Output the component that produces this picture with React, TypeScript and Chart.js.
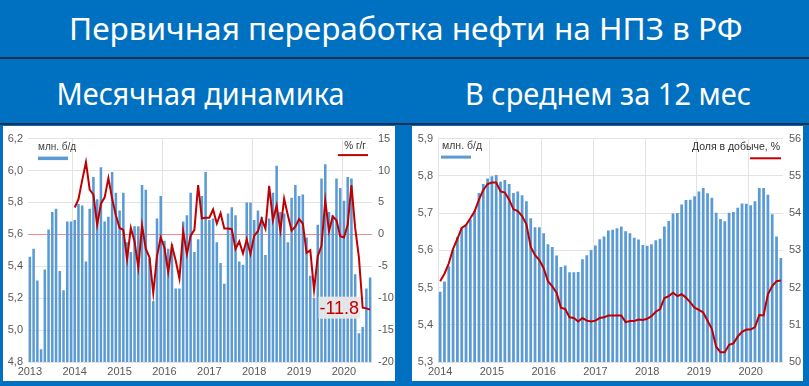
import React, { useEffect, useLayoutEffect, useRef } from 'react';
import { Chart, registerables } from 'chart.js';

Chart.register(...registerables);

// ---------- texts ----------
const TITLE = 'Первичная переработка нефти на НПЗ в РФ';
const SUBTITLE_LEFT = 'Месячная динамика';
const SUBTITLE_RIGHT = 'В среднем за 12 мес';
const BAR_LEGEND = 'млн. б/д';
const YOY_LEGEND = '% г/г';
const SHARE_LEGEND = 'Доля в добыче, %';
const LAST_YOY_LABEL = '-11.8';

// ---------- data: monthly primary refining, mln b/d (Jan 2013 .. Aug 2020) ----------
const MONTHLY_START_YEAR = 2013;
const MONTHLY_RUNS = [
  5.46, 5.51, 5.31, 4.88, 5.38, 5.63, 5.74, 5.76, 5.37, 5.25, 5.68, 5.68,
  5.69, 5.79, 5.78, 5.43, 5.76, 5.96, 5.82, 6.02, 5.68, 5.71, 5.99, 5.86,
  5.75, 5.86, 5.55, 5.49, 5.65, 5.65, 5.91, 5.88, 5.45, 5.18, 5.70, 5.84,
  5.56, 5.51, 5.54, 5.26, 5.26, 5.68, 5.72, 5.86, 5.49, 5.57, 5.84, 5.99,
  5.69, 5.70, 5.55, 5.42, 5.29, 5.73, 5.77, 5.72, 5.43, 5.41, 5.80, 5.80,
  5.69, 5.75, 5.71, 5.47, 5.70, 5.86, 6.03, 5.74, 5.73, 5.55, 5.83, 5.91,
  5.84, 5.85, 5.58, 5.34, 5.20, 5.66, 5.95, 6.04, 5.74, 5.72, 5.95, 5.89,
  5.81, 5.96, 5.95, 5.35, 4.98, 5.02, 5.26, 5.33,
];

// year-on-year change, % (Jan 2014 .. Aug 2020)
const YOY_START_YEAR = 2014;
const MONTHLY_YOY = [
  4.2, 5.5, 8.5, 11.3, 7.0, 6.2, 1.5, 4.8, 5.8, 8.8, 5.6, 3.0,
  1.0, 0.7, -3.9, 1.0, -1.1, -5.2, 1.4, -2.3, -3.6, -9.2, -3.4, -0.5,
  -2.1, -5.9, -1.8, -4.1, -6.9, 0.5, -3.1, -0.2, 0.7, 7.7, 2.5, 2.6,
  2.6, 3.9, 1.7, 3.3, 0.9, 0.9, 0.8, -2.3, -1.1, -3.0, -0.8, -3.1,
  -0.2, 0.5, 2.4, 0.9, 7.6, 2.2, 4.5, 0.6, 5.6, 3.0, 0.6, 1.2,
  2.4, 1.7, -2.9, -2.5, -8.7, -3.4, -1.8, 5.3, 0.5, 2.8, 2.2, -0.3,
  -0.5, 1.5, 7.7, 1.0, -3.6, -11.5, -11.6, -11.8,
];

// 12-month average, mln b/d (Jan 2014 .. Aug 2020)
const AVG_START_YEAR = 2014;
const AVG12_RUNS = [
  5.489, 5.516, 5.557, 5.602, 5.636, 5.659, 5.670, 5.683, 5.706, 5.754, 5.778, 5.793,
  5.799, 5.802, 5.784, 5.789, 5.778, 5.754, 5.758, 5.748, 5.732, 5.686, 5.662, 5.662,
  5.646, 5.616, 5.609, 5.586, 5.555, 5.559, 5.541, 5.541, 5.542, 5.576, 5.587, 5.601,
  5.613, 5.630, 5.637, 5.653, 5.655, 5.659, 5.664, 5.651, 5.646, 5.634, 5.629, 5.614,
  5.612, 5.616, 5.627, 5.631, 5.664, 5.679, 5.699, 5.700, 5.723, 5.735, 5.736, 5.745,
  5.758, 5.767, 5.753, 5.741, 5.701, 5.684, 5.678, 5.701, 5.703, 5.714, 5.726, 5.725,
  5.721, 5.732, 5.767, 5.767, 5.749, 5.697, 5.637, 5.579,
];

// share of refining in oil output, % (Jan 2014 .. Aug 2020)
const SHARE_OF_OUTPUT = [
  52.17, 52.37, 52.65, 53.04, 53.31, 53.60, 53.68, 53.86, 54.05, 54.36, 54.62, 54.78,
  54.82, 54.82, 54.58, 54.55, 54.36, 54.10, 54.05, 53.92, 53.70, 53.09, 52.87, 52.74,
  52.52, 52.17, 52.03, 51.86, 51.46, 51.42, 51.20, 51.18, 51.09, 51.18, 51.11, 51.09,
  51.11, 51.18, 51.20, 51.25, 51.25, 51.25, 51.25, 51.07, 51.10, 51.10, 51.14, 51.13,
  51.16, 51.23, 51.35, 51.42, 51.72, 51.77, 51.86, 51.77, 51.82, 51.73, 51.60, 51.46,
  51.40, 51.33, 51.11, 50.89, 50.41, 50.26, 50.26, 50.46, 50.50, 50.68, 50.81, 50.87,
  50.87, 50.94, 51.26, 51.25, 51.82, 52.04, 52.17, 52.19,
];

// axis ranges
const LEFT_RUNS_AXIS = { min: 4.8, max: 6.2, step: 0.2 };
const LEFT_YOY_AXIS = { min: -20, max: 15, step: 5 };
const YOY_REFERENCE = 0;
const RIGHT_RUNS_AXIS = { min: 5.3, max: 5.9, step: 0.1 };
const RIGHT_SHARE_AXIS = { min: 50, max: 56, step: 1 };

// ---------- styles ----------
const HEADER_BLUE = '#0070c0';
const RULE_DARK = '#1c2f52';
const BAR_BLUE = '#5b9bd5';
const LINE_RED = '#c00000';
const GRID = '#e3e3e3';
const TICK_COLOR = '#595959';
const FONT = '"Liberation Sans", Arial, sans-serif';

function monthLabels(startYear: number, count: number): string[] {
  const out: string[] = [];
  for (let i = 0; i < count; i++) {
    const y = startYear + Math.floor(i / 12);
    const m = (i % 12) + 1;
    out.push(`${y}-${m < 10 ? '0' + m : m}`);
  }
  return out;
}

type Axis = { min: number; max: number; step: number };
type LegendSpec = {
  barTextX: number; barTextY: number; swatchX: number; swatchY: number; swatchH: number;
  lineTextRight: number; lineTextY: number; lineX1: number; lineX2: number; lineY: number;
  fontSize: number;
};

type ComboProps = {
  left: number; top: number; width: number; height: number;
  labels: string[];
  bars: number[];
  line: (number | null)[];
  y: Axis; y2: Axis; yDecimals: number;
  padTop: number; leftW: number; rightW: number; xH: number;
  gridYear: (year: number) => boolean;
  lineWidth: number;
  barPct: number;
  lineLegend: string;
  legend: LegendSpec;
  reference?: number;
  lastLabel?: string;
};

function ComboChart(p: ComboProps) {
  const ref = useRef<HTMLCanvasElement>(null);
  useEffect(() => {
    const canvas = ref.current;
    if (!canvas) return;
    const tickFont = { family: FONT, size: 11 };

    const decor = {
      id: 'decor',
      beforeDatasetsDraw(chart: any) {
        if (p.reference === undefined) return;
        const { ctx, chartArea } = chart;
        const yy = Math.round(chart.scales.y2.getPixelForValue(p.reference)) + 0.5;
        ctx.save();
        ctx.strokeStyle = '#ef8c8c';
        ctx.lineWidth = 1;
        ctx.beginPath();
        ctx.moveTo(chartArea.left, yy);
        ctx.lineTo(chartArea.right, yy);
        ctx.stroke();
        ctx.restore();
      },
      afterDatasetsDraw(chart: any) {
        const { ctx, chartArea } = chart;
        const L = p.legend;
        ctx.save();
        ctx.font = `${L.fontSize}px ${FONT}`;
        ctx.fillStyle = '#404040';
        ctx.textBaseline = 'middle';
        ctx.textAlign = 'left';
        ctx.fillText(BAR_LEGEND, chartArea.left + L.barTextX, chartArea.top + L.barTextY);
        ctx.fillStyle = BAR_BLUE;
        ctx.fillRect(chartArea.left + L.swatchX, chartArea.top + L.swatchY, 30, L.swatchH);
        ctx.fillStyle = '#303030';
        ctx.textAlign = 'right';
        ctx.fillText(p.lineLegend, chartArea.right + L.lineTextRight, chartArea.top + L.lineTextY);
        ctx.strokeStyle = LINE_RED;
        ctx.lineWidth = 2;
        ctx.beginPath();
        ctx.moveTo(chartArea.right + L.lineX1, chartArea.top + L.lineY);
        ctx.lineTo(chartArea.right + L.lineX2, chartArea.top + L.lineY);
        ctx.stroke();

        if (p.lastLabel) {
          const meta = chart.getDatasetMeta(1);
          const pt = meta.data[meta.data.length - 1];
          if (pt) {
            ctx.font = `18px ${FONT}`;
            const tw = ctx.measureText(p.lastLabel).width;
            const bw = tw + 2;
            const bh = 22;
            const bx = pt.x - 10 - bw;
            const by = pt.y - 2 - bh / 2;
            ctx.fillStyle = 'rgba(232,232,232,0.95)';
            ctx.fillRect(bx, by, bw, bh);
            ctx.fillStyle = LINE_RED;
            ctx.textAlign = 'center';
            ctx.textBaseline = 'middle';
            ctx.fillText(p.lastLabel, bx + bw / 2, by + bh / 2 + 1);
          }
        }
        ctx.restore();
      },
    };

    const chart = new Chart(canvas, {
      type: 'bar',
      data: {
        labels: p.labels,
        datasets: [
          {
            type: 'bar',
            data: p.bars,
            backgroundColor: BAR_BLUE,
            barPercentage: p.barPct,
            categoryPercentage: 1,
            yAxisID: 'y',
            order: 2,
          } as any,
          {
            type: 'line',
            data: p.line,
            borderColor: LINE_RED,
            borderWidth: p.lineWidth,
            pointRadius: 0,
            tension: 0,
            fill: false,
            yAxisID: 'y2',
            order: 1,
          } as any,
        ],
      },
      options: {
        responsive: false,
        animation: false,
        layout: { padding: { top: p.padTop, left: 0, right: 0, bottom: 0 } },
        plugins: { legend: { display: false }, tooltip: { enabled: false } },
        scales: {
          x: {
            type: 'category',
            offset: true,
            border: { display: false },
            grid: {
              offset: true,
              drawTicks: false,
              color: (c: any) => {
                if (c.index === undefined || c.type !== 'tick') return 'rgba(0,0,0,0)';
                const lab = p.labels[c.index];
                if (!lab || !lab.endsWith('-01')) return 'rgba(0,0,0,0)';
                return p.gridYear(Number(lab.slice(0, 4))) ? GRID : 'rgba(0,0,0,0)';
              },
            },
            ticks: {
              autoSkip: false,
              maxRotation: 0,
              minRotation: 0,
              padding: 3,
              color: TICK_COLOR,
              font: tickFont,
              callback: function (this: any, value: any) {
                const lab: string = this.getLabelForValue(value);
                return lab.endsWith('-01') ? lab.slice(0, 4) : '';
              },
            },
            afterFit: (s: any) => { s.height = p.xH; },
          },
          y: {
            position: 'left',
            min: p.y.min,
            max: p.y.max,
            border: { display: false },
            grid: { color: GRID, drawTicks: false },
            ticks: {
              stepSize: p.y.step,
              padding: 5,
              color: TICK_COLOR,
              font: tickFont,
              callback: (v: any) => Number(v).toFixed(p.yDecimals).replace('.', ','),
            },
            afterFit: (s: any) => { s.width = p.leftW; },
          },
          y2: {
            position: 'right',
            min: p.y2.min,
            max: p.y2.max,
            border: { display: false },
            grid: { drawOnChartArea: false, drawTicks: false },
            ticks: { stepSize: p.y2.step, padding: 6, color: TICK_COLOR, font: tickFont },
            afterFit: (s: any) => { s.width = p.rightW; },
          },
        },
      } as any,
      plugins: [decor],
    });
    return () => chart.destroy();
  }, []);

  return (
    <div style={{ position: 'absolute', left: p.left, top: p.top, width: p.width, height: p.height, background: '#fff' }}>
      <canvas ref={ref} width={p.width} height={p.height} style={{ display: 'block', width: p.width, height: p.height }} />
    </div>
  );
}

function FitText({ text, cx, top, width, fontSize }: { text: string; cx: number; top: number; width: number; fontSize: number }) {
  const ref = useRef<HTMLSpanElement>(null);
  useLayoutEffect(() => {
    const el = ref.current;
    if (!el) return;
    const w = el.offsetWidth;
    if (w > 0) el.style.transform = `scaleX(${width / w})`;
  }, [text, width]);
  return (
    <div style={{ position: 'absolute', left: cx - 400, top, width: 800, textAlign: 'center', whiteSpace: 'nowrap' }}>
      <span
        ref={ref}
        style={{
          display: 'inline-block',
          fontFamily: '"Noto Sans", "Open Sans", sans-serif',
          fontSize,
          lineHeight: `${fontSize}px`,
          color: '#ffffff',
          transformOrigin: 'center',
        }}
      >
        {text}
      </span>
    </div>
  );
}

export default function App() {
  const leftLabels = monthLabels(MONTHLY_START_YEAR, MONTHLY_RUNS.length);
  const yoyOffset = (YOY_START_YEAR - MONTHLY_START_YEAR) * 12;
  const leftLine: (number | null)[] = [...new Array(yoyOffset).fill(null), ...MONTHLY_YOY];
  const rightLabels = monthLabels(AVG_START_YEAR, AVG12_RUNS.length);

  return (
    <div style={{ position: 'absolute', left: 0, top: 0, width: 809, height: 386, background: HEADER_BLUE, overflow: 'hidden' }}>
      <FitText text={TITLE} cx={406} top={13} width={674} fontSize={31} />
      <div style={{ position: 'absolute', left: 0, top: 57, width: 809, height: 2, background: RULE_DARK }} />
      <FitText text={SUBTITLE_LEFT} cx={201} top={78} width={288} fontSize={31} />
      <FitText text={SUBTITLE_RIGHT} cx={608} top={78} width={286} fontSize={31} />
      <div style={{ position: 'absolute', left: 0, top: 123, width: 809, height: 2, background: RULE_DARK }} />

      <ComboChart
        left={3} top={126} width={392} height={255}
        labels={leftLabels}
        bars={MONTHLY_RUNS}
        line={leftLine}
        y={LEFT_RUNS_AXIS} y2={LEFT_YOY_AXIS} yDecimals={1}
        padTop={7} leftW={25} rightW={23} xH={19}
        gridYear={(yr) => yr % 2 === 0}
        lineWidth={2}
        barPct={0.68}
        lineLegend={YOY_LEGEND}
        legend={{
          barTextX: 10, barTextY: 9, swatchX: 10, swatchY: 18, swatchH: 3.5,
          lineTextRight: -6, lineTextY: 8, lineX1: -34, lineX2: -4, lineY: 16.5, fontSize: 10,
        }}
        reference={YOY_REFERENCE}
        lastLabel={LAST_YOY_LABEL}
      />

      <ComboChart
        left={412} top={126} width={391} height={255}
        labels={rightLabels}
        bars={AVG12_RUNS}
        line={SHARE_OF_OUTPUT}
        y={RIGHT_RUNS_AXIS} y2={RIGHT_SHARE_AXIS} yDecimals={1}
        padTop={8} leftW={26} rightW={20} xH={19}
        gridYear={() => true}
        lineWidth={2}
        barPct={0.64}
        lineLegend={SHARE_LEGEND}
        legend={{
          barTextX: 4, barTextY: 8, swatchX: 3, swatchY: 17, swatchH: 3,
          lineTextRight: -3, lineTextY: 9, lineX1: -33, lineX2: -2, lineY: 19.7, fontSize: 10.5,
        }}
      />
    </div>
  );
}
